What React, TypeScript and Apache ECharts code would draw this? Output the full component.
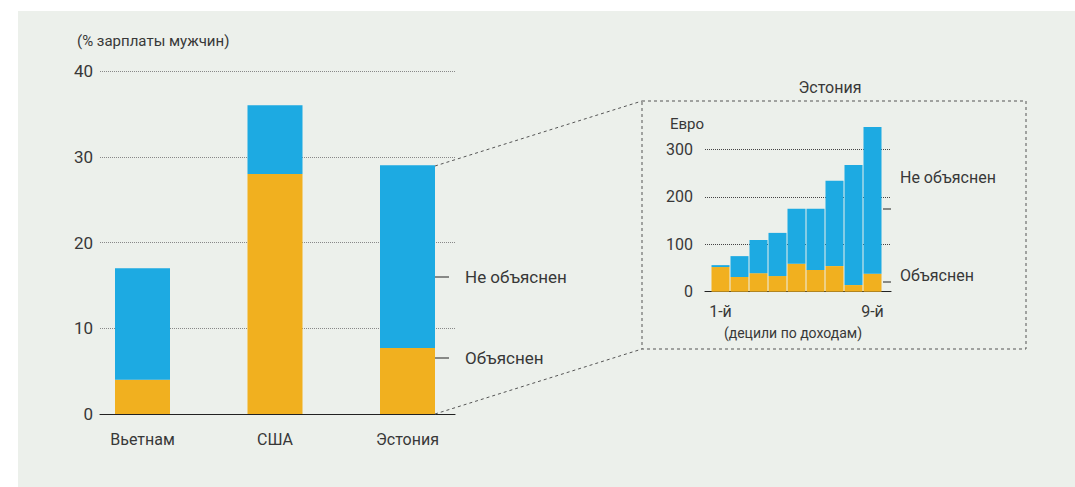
import React, { useEffect, useRef } from "react";
import * as echarts from "echarts";

const countries = ["Вьетнам", "США", "Эстония"];
const explainedPct = [4, 28, 7.7];
const unexplainedPct = [13, 8, 21.3];

const deciles = ["1-й", "2-й", "3-й", "4-й", "5-й", "6-й", "7-й", "8-й", "9-й"];
const explainedEur = [52, 31, 39, 33, 59, 46, 54, 14, 38];
const unexplainedEur = [4, 44, 70, 91, 116, 129, 180, 253, 309];

const leftTicks = { min: 0, max: 40, interval: 10 };
const insetTicks = { min: 0, max: 300, interval: 100 };

const BLUE = "#1DAAE2";
const ORANGE = "#F1B01F";
const BG = "#ECF0EB";
const TXT = "#383838";
const FONT = "'Liberation Sans Narrow', 'Roboto', sans-serif";

export default function App() {
  const ref = useRef<HTMLDivElement>(null);
  useEffect(() => {
    if (!ref.current) return;
    const chart = echarts.init(ref.current, null, { renderer: "svg" });
    const txt = (x: number, y: number, text: string, size: number, align = "left") => ({
      type: "text",
      x,
      y,
      style: { text, fill: TXT, font: `${size}px ${FONT}`, textAlign: align, textVerticalAlign: "middle" },
      z: 10,
    });
    const ln = (x1: number, y1: number, x2: number, y2: number, dash?: number[]) => ({
      type: "line",
      shape: { x1, y1, x2, y2 },
      style: { stroke: dash ? "#555" : "#222", lineWidth: 1, lineDash: dash },
      z: 10,
    });
    chart.setOption({
      animation: false,
      textStyle: { fontFamily: FONT },
      graphic: [
        { type: "rect", shape: { x: 18, y: 11, width: 1057, height: 476 }, style: { fill: BG }, z: -10 },
        txt(77, 41, "(% зарплаты мужчин)", 15),
        ln(435, 277, 449, 277),
        ln(435, 358, 449, 358),
        txt(465, 277, "Не объяснен", 17),
        txt(465, 358, "Объяснен", 17),
        ln(435, 166, 642, 101, [3, 3]),
        ln(435, 414, 642, 349, [3, 3]),
        {
          type: "rect",
          shape: { x: 642, y: 101, width: 384, height: 248 },
          style: { fill: "none", stroke: "#555", lineWidth: 1, lineDash: [3, 3] },
          z: 10,
        },
        txt(830, 87, "Эстония", 16, "center"),
        txt(670, 124, "Евро", 15),
        ln(883, 209, 891, 209),
        ln(883, 282, 891, 282),
        txt(900, 177, "Не объяснен", 16),
        txt(900, 275, "Объяснен", 16),
        txt(793, 333, "(децили по доходам)", 14, "center"),
      ],
      grid: [
        { left: 100, top: 71, width: 355, height: 343 },
        { left: 76.25, top: 71, width: 397.5, height: 343 },
        { left: 705, top: 149.3, width: 186, height: 142.4 },
        { left: 711, top: 120.95, width: 171, height: 170.75 },
      ],
      xAxis: [
        {
          gridIndex: 0,
          type: "value",
          min: 0,
          max: 1,
          axisLine: { show: true, lineStyle: { color: "#222", width: 1.2 } },
          axisTick: { show: false },
          axisLabel: { show: false },
          splitLine: { show: false },
        },
        {
          gridIndex: 1,
          type: "category",
          data: countries,
          axisLine: { show: false },
          axisTick: { show: false },
          axisLabel: { color: TXT, fontSize: 16, margin: 17, fontFamily: FONT },
        },
        {
          gridIndex: 2,
          type: "value",
          min: 0,
          max: 1,
          axisLine: { show: true, lineStyle: { color: "#222", width: 1.2 } },
          axisTick: { show: false },
          axisLabel: { show: false },
          splitLine: { show: false },
        },
        {
          gridIndex: 3,
          type: "category",
          data: deciles,
          axisLine: { show: false },
          axisTick: { show: false },
          axisLabel: {
            color: TXT,
            fontSize: 16,
            margin: 12,
            interval: 0,
            fontFamily: FONT,
            formatter: (v: string, i: number) => (i === 0 || i === deciles.length - 1 ? v : ""),
          },
        },
      ],
      yAxis: [
        {
          gridIndex: 0,
          type: "value",
          ...leftTicks,
          axisLine: { show: false },
          axisTick: { show: false },
          axisLabel: { color: TXT, fontSize: 17, margin: 7, fontFamily: FONT },
          splitLine: { show: true, lineStyle: { color: "#888", type: "dotted", width: 1 } },
        },
        { gridIndex: 1, type: "value", ...leftTicks, show: false, splitLine: { show: false } },
        {
          gridIndex: 2,
          type: "value",
          ...insetTicks,
          axisLine: { show: false },
          axisTick: { show: false },
          axisLabel: { color: TXT, fontSize: 16, margin: 12, fontFamily: FONT },
          splitLine: { show: true, lineStyle: { color: "#444", type: "dotted", width: 1 } },
        },
        { gridIndex: 3, type: "value", min: 0, max: 360, show: false, splitLine: { show: false } },
      ],
      series: [
        {
          type: "bar",
          xAxisIndex: 1,
          yAxisIndex: 1,
          stack: "a",
          data: explainedPct,
          barWidth: 55,
          itemStyle: { color: ORANGE },
          z: 5,
        },
        {
          type: "bar",
          xAxisIndex: 1,
          yAxisIndex: 1,
          stack: "a",
          data: unexplainedPct,
          barWidth: 55,
          itemStyle: { color: BLUE },
          z: 5,
        },
        {
          type: "bar",
          xAxisIndex: 3,
          yAxisIndex: 3,
          stack: "b",
          data: explainedEur,
          barWidth: 18,
          itemStyle: { color: ORANGE },
          z: 5,
        },
        {
          type: "bar",
          xAxisIndex: 3,
          yAxisIndex: 3,
          stack: "b",
          data: unexplainedEur,
          barWidth: 18,
          itemStyle: { color: BLUE },
          z: 5,
        },
      ],
    });
    return () => chart.dispose();
  }, []);
  return (
    <div
      ref={ref}
      style={{ position: "absolute", left: 0, top: 0, width: 1075, height: 487, background: "#ffffff" }}
    />
  );
}
